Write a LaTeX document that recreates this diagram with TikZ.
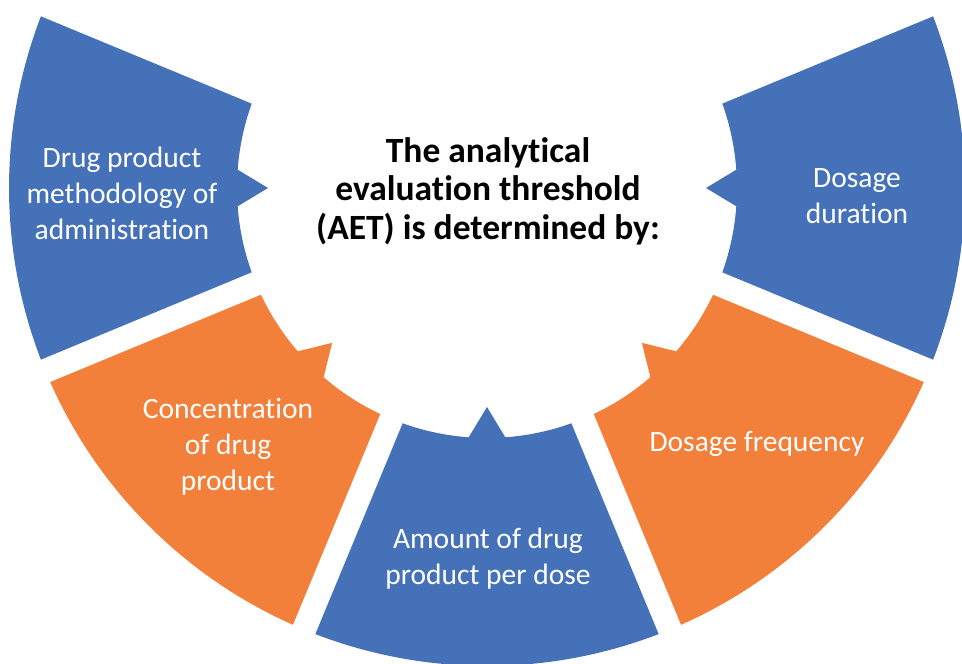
\documentclass[tikz,border=0pt]{standalone}
\usepackage{fontspec}
\setmainfont[Ligatures=CommonOff]{Carlito}
\usetikzlibrary{calc}
\definecolor{segblue}{HTML}{4571B9}
\definecolor{segorange}{HTML}{F2803A}
\tikzset{
  segtext/.style={text=white, align=center, font=\fontsize{29.5}{36}\selectfont},
  titletext/.style={text=black, align=center, font=\bfseries\fontsize{35.5}{38.5}\selectfont},
  gapline/.style={white, line width=24}
}
\newcommand{\drawseg}[2]{%
  \fill[#2] ([shift={(#1-22.5:478)}]C) arc[start angle=#1-22.5, end angle=#1+22.5, radius=478]
    -- ([shift={(#1+22.5:250)}]C) arc[start angle=#1+22.5, end angle=#1+4.2, radius=250]
    -- ([shift={(#1:219)}]C) -- ([shift={(#1-4.2:250)}]C)
    arc[start angle=#1-4.2, end angle=#1-22.5, radius=250] -- cycle;}
\begin{document}
\begin{tikzpicture}[x=1pt,y=1pt]
\useasboundingbox (0,0) rectangle (962,664);
\clip (0,0) rectangle (962,664);
\fill[white] (0,0) rectangle (962,664);
\coordinate (C) at (487,476);
\drawseg{180}{segblue}
\drawseg{225}{segorange}
\drawseg{270}{segblue}
\drawseg{315}{segorange}
\drawseg{360}{segblue}
\foreach \b in {157.5,202.5,247.5,292.5,337.5,382.5}
  \draw[gapline] (C) -- ++(\b:520);
\node[segtext] (t1) at (122,471) {Drug product\\methodology of\\administration};
\node[segtext] (t2) at (857,468) {Dosage\\duration};
\node[segtext] (t3) at (228,217) {Concentration\\of drug\\product};
\node[segtext] (t4) at (488,105) {Amount of drug\\product per dose};
\node[segtext] (t5) at (757,220) {Dosage frequency};
\node[titletext] (title) at (488,473) {The analytical\\evaluation threshold\\(AET) is determined by:};
\end{tikzpicture}
\end{document}
